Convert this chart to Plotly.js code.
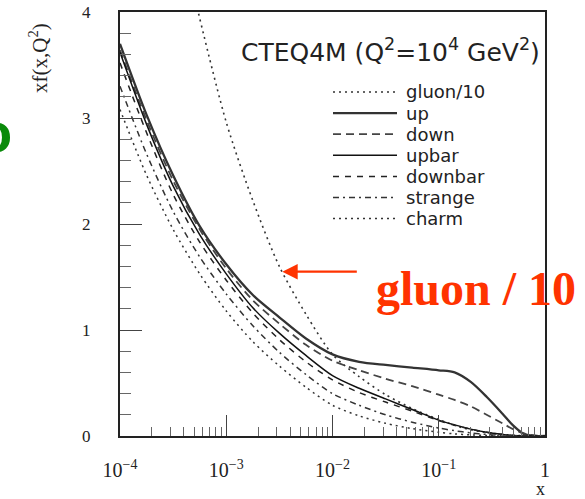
<!DOCTYPE html>
<html>
<head>
<meta charset="utf-8">
<script src="https://cdn.plot.ly/plotly-3.0.1.min.js"></script>
<style>html,body{margin:0;padding:0;background:#fff;}#chart{width:585px;height:499px;}</style>
</head>
<body>
<div id="chart"></div>
<script>
// x grid (Bjorken x) for quark distributions
var xGrid = [1e-4, 1.78e-4, 3.16e-4, 5.62e-4, 1e-3, 1.78e-3, 3.16e-3, 5.62e-3, 1e-2, 1.78e-2, 3.16e-2, 5.62e-2, 0.1, 0.141, 0.2, 0.282, 0.398, 0.5, 0.631, 0.794, 1.0];
var upVals      = [3.70, 3.03, 2.46, 1.98, 1.62, 1.33, 1.12, 0.92, 0.77, 0.70, 0.67, 0.645, 0.62, 0.60, 0.51, 0.37, 0.21, 0.10, 0.02, 0.0, 0.0];
var downVals    = [3.64, 2.98, 2.41, 1.95, 1.58, 1.28, 1.06, 0.86, 0.71, 0.62, 0.54, 0.47, 0.39, 0.34, 0.28, 0.20, 0.12, 0.065, 0.025, 0.005, 0.0];
var upbarVals   = [3.62, 2.94, 2.36, 1.90, 1.53, 1.21, 0.97, 0.76, 0.57, 0.45, 0.35, 0.25, 0.15, 0.105, 0.065, 0.035, 0.015, 0.005, 0.0, 0.0, 0.0];
var downbarVals = [3.52, 2.86, 2.28, 1.83, 1.47, 1.16, 0.91, 0.70, 0.53, 0.41, 0.32, 0.235, 0.145, 0.10, 0.065, 0.035, 0.015, 0.005, 0.0, 0.0, 0.0];
var strangeVals = [3.30, 2.66, 2.12, 1.69, 1.34, 1.04, 0.79, 0.58, 0.40, 0.29, 0.20, 0.13, 0.075, 0.05, 0.03, 0.015, 0.005, 0.0, 0.0, 0.0, 0.0];
var charmVals   = [3.08, 2.46, 1.95, 1.53, 1.18, 0.89, 0.66, 0.46, 0.29, 0.19, 0.12, 0.07, 0.035, 0.02, 0.01, 0.005, 0.0, 0.0, 0.0, 0.0, 0.0];
// gluon / 10
var gluonX    = [5.01e-4, 1e-3, 1.78e-3, 3.16e-3, 5.62e-3, 1e-2, 1.78e-2, 3.16e-2, 5.62e-2, 0.1, 0.178, 0.316, 0.562, 1.0];
var gluonVals = [4.15, 2.96, 2.22, 1.60, 1.15, 0.77, 0.56, 0.39, 0.26, 0.155, 0.07, 0.025, 0.005, 0.0];

var seriesNames = ['gluon/10', 'up', 'down', 'upbar', 'downbar', 'strange', 'charm'];
var titleText = 'CTEQ4M (Q<sup>2</sup>=10<sup>4</sup> GeV<sup>2</sup>)';
var yTitle = 'xf(x,Q<sup>2</sup>)';
var arrowLabel = 'gluon / 10';
var arrowTarget = {x: 3.37e-3, y: 1.55};

var styles = {
  'gluon/10': {color: '#333', width: 1.6, dash: '2px,4px'},
  'up':       {color: '#333', width: 2.3, dash: 'solid'},
  'down':     {color: '#444', width: 1.8, dash: '8px,5px'},
  'upbar':    {color: '#111', width: 1.5, dash: 'solid'},
  'downbar':  {color: '#222', width: 1.5, dash: '6px,6px'},
  'strange':  {color: '#333', width: 1.5, dash: '6px,4px,2px,4px'},
  'charm':    {color: '#333', width: 1.5, dash: '2px,4px'}
};
var seriesData = {
  'gluon/10': [gluonX, gluonVals],
  'up': [xGrid, upVals],
  'down': [xGrid, downVals],
  'upbar': [xGrid, upbarVals],
  'downbar': [xGrid, downbarVals],
  'strange': [xGrid, strangeVals],
  'charm': [xGrid, charmVals]
};

var traces = seriesNames.map(function(n){
  return {x: seriesData[n][0], y: seriesData[n][1], name: n, type: 'scatter', mode: 'lines',
          line: {color: styles[n].color, width: styles[n].width, dash: styles[n].dash, shape: 'spline', smoothing: 0.8},
          showlegend: false, hoverinfo: 'skip'};
});

// plot-area geometry (pixels) for placing decorations
var W = 585, H = 499, L = 120, R = 40, T = 12, B = 63;
var pw = W - L - R, ph = H - T - B;
function px(xp){ return (xp - L) / pw; }
function py(yp){ return (H - B - yp) / ph; }

var shapes = [], annotations = [];
seriesNames.forEach(function(n, i){
  var yy = 92 + i * 21.1;
  shapes.push({type: 'line', xref: 'paper', yref: 'paper', x0: px(333), x1: px(397), y0: py(yy), y1: py(yy),
               line: {color: styles[n].color, width: styles[n].width, dash: styles[n].dash}});
  annotations.push({xref: 'paper', yref: 'paper', x: px(404), y: py(yy), xanchor: 'left', yanchor: 'middle',
                    text: n, showarrow: false, font: {family: 'DejaVu Sans', size: 18, color: '#222'}});
});
annotations.push({xref: 'paper', yref: 'paper', x: px(542), y: py(50), xanchor: 'right', yanchor: 'middle',
                  text: titleText, showarrow: false, font: {family: 'DejaVu Sans', size: 25, color: '#222'}});
annotations.push({xref: 'paper', yref: 'paper', x: px(38), y: py(58), xanchor: 'center', yanchor: 'middle',
                  text: yTitle, textangle: -90, showarrow: false, font: {family: 'Liberation Serif', size: 21, color: '#222'}});
annotations.push({xref: 'paper', yref: 'paper', x: px(540), y: py(489), xanchor: 'center', yanchor: 'middle',
                  text: 'x', showarrow: false, font: {family: 'Liberation Serif', size: 18, color: '#222'}});
// red arrow to gluon curve
annotations.push({x: Math.log10(arrowTarget.x), y: arrowTarget.y, xref: 'x', yref: 'y', text: '', showarrow: true,
                  axref: 'pixel', ayref: 'pixel', ax: 76, ay: 0, arrowhead: 2, arrowsize: 1.4, arrowwidth: 2.2, arrowcolor: '#FF3300'});
annotations.push({xref: 'paper', yref: 'paper', x: px(476), y: py(288), xanchor: 'center', yanchor: 'middle',
                  text: '<b>' + arrowLabel + '</b>', showarrow: false, font: {family: 'Liberation Serif', size: 48, color: '#FF3300'}});
// partially visible green letter at left edge
annotations.push({xref: 'paper', yref: 'paper', x: px(14), y: py(132), xanchor: 'right', yanchor: 'middle',
                  text: '<b>o</b>', showarrow: false, font: {family: 'Liberation Sans', size: 56, color: '#0A8A0A'}});

var layout = {
  width: W, height: H,
  margin: {l: L, r: R, t: T, b: B, pad: 0},
  paper_bgcolor: '#fff', plot_bgcolor: '#fff',
  showlegend: false,
  xaxis: {type: 'log', range: [-4, 0], dtick: 1, exponentformat: 'power',
          ticks: 'inside', ticklen: 21, tickwidth: 1, tickcolor: '#444',
          minor: {dtick: 'D1', ticks: 'inside', ticklen: 9, tickwidth: 1, tickcolor: '#666', showgrid: false},
          showgrid: false, zeroline: false, showline: true, linecolor: '#222', linewidth: 2, mirror: true,
          ticklabelstandoff: 16, tickfont: {family: 'Liberation Serif', size: 16, color: '#222'}},
  yaxis: {range: [0, 4], dtick: 1, ticks: 'inside', ticklen: 22, tickwidth: 1, tickcolor: '#444',
          minor: {dtick: 0.2, ticks: 'inside', ticklen: 11, tickwidth: 1, tickcolor: '#666', showgrid: false},
          showgrid: false, zeroline: false, showline: true, linecolor: '#222', linewidth: 2, mirror: true,
          ticklabelstandoff: 24, tickfont: {family: 'Liberation Serif', size: 17, color: '#222'}},
  shapes: shapes,
  annotations: annotations
};

Plotly.newPlot('chart', traces, layout, {staticPlot: true, displayModeBar: false});
</script>
</body>
</html>
